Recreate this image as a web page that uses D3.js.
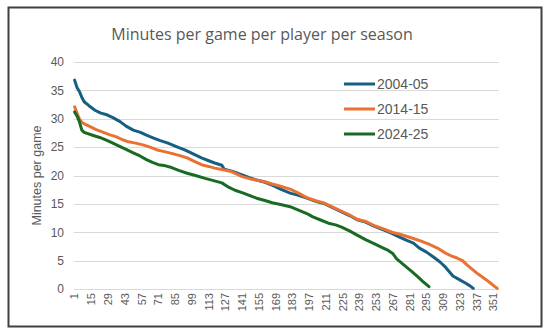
<!DOCTYPE html>
<html lang="en">
  <head>
    <meta charset="UTF-8" />
    <title>Minutes per game per player per season</title>
    <script src="https://d3js.org/d3.v7.min.js"></script>
    <style>
      body { margin: 0; background: #fff; }
      text { font-family: "Liberation Sans", Arial, sans-serif; fill: #595959; }
    </style>
  </head>
  <body>
    <svg id="chart" width="550" height="335"></svg>
  </body>

  <script>
    // categories (player rank within the season)
    let categories = d3.range(1, 356);
    let tickLabels = [1, 15, 29, 43, 57, 71, 85, 99, 113, 127, 141, 155, 169, 183, 197,
      211, 225, 239, 253, 267, 281, 295, 309, 323, 337, 351];
    let yTicks = [0, 5, 10, 15, 20, 25, 30, 35, 40];
    let seasons = ["2004-05", "2014-15", "2024-25"];

    // [rank, minutes per game]
    let season0405 = [
      [1, 36.8], [3, 35.5], [5, 34.8], [7, 33.8], [9, 33.0], [13, 32.3], [18, 31.5],
      [23, 31.0], [28, 30.7], [33, 30.2], [39, 29.5], [44, 28.7], [50, 28.0], [56, 27.6],
      [61, 27.1], [67, 26.6], [72, 26.2], [79, 25.7], [86, 25.1], [93, 24.5], [100, 23.8],
      [107, 23.1], [113, 22.6], [118, 22.2], [124, 21.8], [126, 21.1], [133, 20.7],
      [141, 20.1], [147, 19.6], [153, 19.2], [160, 18.8], [166, 18.3], [173, 17.6],
      [181, 16.9], [188, 16.5], [195, 16.0], [203, 15.4], [210, 15.0], [217, 14.3],
      [224, 13.6], [231, 12.9], [237, 12.2], [244, 11.8], [252, 11.0], [259, 10.4],
      [266, 9.8], [272, 9.2], [278, 8.6], [284, 8.1], [289, 7.2], [295, 6.5], [301, 5.6],
      [306, 4.8], [311, 3.8], [317, 2.3], [322, 1.7], [327, 1.1], [331, 0.6], [334, 0.1]
    ];
    let season1415 = [
      [1, 32.1], [3, 31.0], [5, 30.0], [7, 29.4], [10, 29.0], [14, 28.6], [19, 28.1],
      [24, 27.7], [30, 27.2], [36, 26.8], [41, 26.3], [45, 26.0], [52, 25.7], [58, 25.4],
      [64, 25.0], [70, 24.5], [76, 24.2], [82, 23.9], [89, 23.5], [95, 23.1], [101, 22.5],
      [107, 21.9], [113, 21.6], [118, 21.3], [125, 21.0], [132, 20.7], [141, 19.8],
      [148, 19.4], [153, 19.2], [160, 18.9], [166, 18.5], [173, 18.1], [181, 17.6],
      [188, 16.9], [195, 16.1], [203, 15.5], [210, 15.1], [217, 14.4], [224, 13.7],
      [231, 13.0], [237, 12.3], [244, 11.9], [252, 11.1], [259, 10.6], [266, 10.0],
      [272, 9.7], [278, 9.3], [284, 8.9], [291, 8.4], [298, 7.8], [305, 7.1], [311, 6.3],
      [316, 5.8], [320, 5.5], [325, 5.0], [329, 4.2], [333, 3.5], [337, 2.8], [341, 2.2],
      [345, 1.6], [348, 1.1], [351, 0.6], [354, 0.1]
    ];
    let season2425 = [
      [1, 31.2], [3, 30.5], [5, 29.5], [7, 28.0], [9, 27.6], [16, 27.1], [22, 26.7],
      [28, 26.2], [33, 25.7], [39, 25.1], [44, 24.6], [50, 24.0], [56, 23.4], [61, 22.8],
      [66, 22.3], [71, 21.9], [77, 21.7], [82, 21.4], [88, 20.9], [95, 20.4], [102, 20.0],
      [110, 19.5], [117, 19.1], [124, 18.7], [130, 17.9], [135, 17.4], [142, 16.9],
      [148, 16.4], [153, 16.0], [160, 15.6], [166, 15.2], [173, 14.9], [181, 14.5],
      [188, 13.9], [195, 13.3], [200, 12.7], [206, 12.2], [213, 11.6], [219, 11.3],
      [224, 10.9], [231, 10.2], [237, 9.5], [244, 8.7], [252, 7.9], [258, 7.3], [263, 6.8],
      [267, 6.2], [270, 5.3], [274, 4.6], [278, 3.9], [283, 3.0], [288, 2.1], [292, 1.3],
      [297, 0.4]
    ];
    let seriesData = [season0405, season1415, season2425];
    let colors = ["#156082", "#E97132", "#196B24"];

    let svg = d3.select("#chart");

    // chart frame
    svg.append("rect")
      .attr("x", 8.5).attr("y", 7.5)
      .attr("width", 533).attr("height", 319)
      .attr("fill", "#fff")
      .attr("stroke", "#404040")
      .attr("stroke-width", 2);

    let plotLeft = 74, plotRight = 499, plotTop = 62, plotBottom = 289;

    let x = d3.scaleBand().domain(categories).range([plotLeft, plotRight]);
    let y = d3.scaleLinear().domain([0, 40]).range([plotBottom, plotTop]);

    // gridlines
    svg.append("g")
      .selectAll("line")
      .data(yTicks)
      .join("line")
      .attr("x1", plotLeft).attr("x2", plotRight)
      .attr("y1", d => Math.round(y(d)) + 0.5)
      .attr("y2", d => Math.round(y(d)) + 0.5)
      .attr("stroke", "#d9d9d9")
      .attr("stroke-width", 1);

    // y axis labels
    let yAxis = svg.append("g")
      .attr("transform", `translate(${plotLeft - 10},0)`)
      .call(d3.axisLeft(y).tickValues(yTicks).tickSize(0).tickPadding(0));
    yAxis.select(".domain").remove();
    yAxis.selectAll("text")
      .style("font-size", "12px")
      .attr("fill", "#595959");

    // x axis labels, rotated
    let xAxis = svg.append("g")
      .attr("transform", `translate(0,${plotBottom})`)
      .call(d3.axisBottom(x).tickValues(tickLabels).tickSize(0));
    xAxis.select(".domain").remove();
    xAxis.selectAll("text")
      .style("font-size", "11px")
      .attr("fill", "#595959")
      .attr("transform", "rotate(-90)")
      .attr("text-anchor", "end")
      .attr("x", -4)
      .attr("y", 0)
      .attr("dy", "0.35em");

    // y axis title
    svg.append("text")
      .attr("transform", `translate(41,${(plotTop + plotBottom) / 2}) rotate(-90)`)
      .attr("text-anchor", "middle")
      .style("font-size", "12.5px")
      .text("Minutes per game");

    // title
    svg.append("text")
      .attr("x", 262).attr("y", 40)
      .attr("text-anchor", "middle")
      .style("font-family", "'Open Sans', sans-serif")
      .style("font-size", "16px")
      .text("Minutes per game per player per season");

    // lines
    let line = d3.line()
      .x(d => x(d[0]) + x.bandwidth() / 2)
      .y(d => y(d[1]));

    svg.append("g")
      .selectAll("path")
      .data(seriesData)
      .join("path")
      .attr("fill", "none")
      .attr("stroke", (d, i) => colors[i])
      .attr("stroke-width", 3)
      .attr("stroke-linejoin", "round")
      .attr("stroke-linecap", "round")
      .attr("d", line);

    // legend
    let legend = svg.append("g")
      .selectAll("g")
      .data(seasons)
      .join("g")
      .attr("transform", (d, i) => `translate(344,${84 + i * 25})`);
    legend.append("line")
      .attr("x1", 0).attr("x2", 31)
      .attr("stroke", (d, i) => colors[i])
      .attr("stroke-width", 3);
    legend.append("text")
      .attr("x", 33).attr("dy", "0.35em")
      .style("font-size", "14px")
      .text(d => d);
  </script>
</html>
